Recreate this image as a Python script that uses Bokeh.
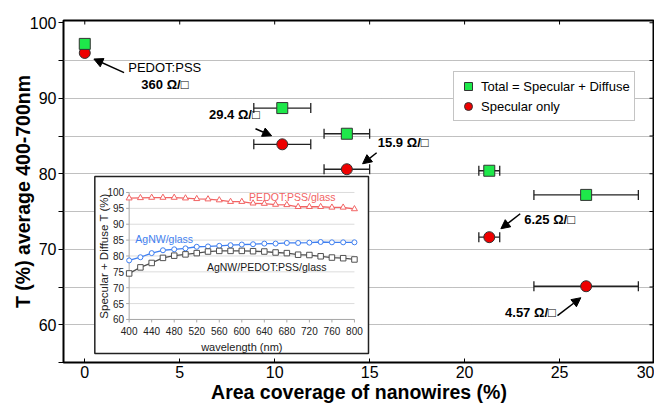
import math
from bokeh.plotting import figure
from bokeh.models import (ColumnDataSource, FixedTicker, Whisker, TeeHead, Arrow, NormalHead,
                          Legend, LegendItem, Range1d)
from bokeh.core.properties import value
from bokeh.embed import file_html
from bokeh.resources import INLINE

FONT = "Liberation Sans"

# ---------------- main chart data ----------------
coverage = [0.0, 10.4, 13.8, 21.3, 26.4]
coverage_err = [0.0, 1.5, 1.2, 0.55, 2.75]
t_total = [97.2, 88.7, 85.3, 80.4, 77.2]
t_specular = [96.0, 83.9, 80.6, 71.6, 65.1]
sheet_res = ["360", "29.4", "15.9", "6.25", "4.57"]

x_ticks = [0, 5, 10, 15, 20, 25, 30]
y_ticks = [60, 70, 80, 90, 100]
y_minor = [55, 65, 75, 85, 95]
y_grid = [60, 65, 70, 75, 80, 85, 90, 95]

# annotation placement (main data coords)
lab_x = [2.98, 6.54, 15.43, 23.14, 22.13]
lab_y = [91.8, 87.8, 84.2, 73.9, 61.6]
arr_xs = [2.07, 8.99, 15.37, 22.93, 24.89]
arr_ys = [93.4, 85.96, 82.78, 74.7, 61.2]
arr_xe = [0.48, 9.84, 14.63, 21.91, 26.12]
arr_ye = [95.2, 85.03, 81.32, 72.72, 63.58]

# ---------------- inset data ----------------
wavelength = [400, 420, 440, 460, 480, 500, 520, 540, 560, 580, 600,
              620, 640, 660, 680, 700, 720, 740, 760, 780, 800]
pedot_glass = [98.2, 98.3, 98.4, 98.4, 98.4, 98.2, 98.0, 97.9, 97.6, 97.1, 97.1,
               96.6, 96.5, 96.2, 96.1, 95.5, 95.5, 95.5, 95.3, 95.3, 94.8]
agnw_glass = [78.6, 79.6, 80.9, 81.8, 82.1, 82.4, 82.9, 83.0, 83.2, 83.4, 83.6,
              83.7, 83.9, 83.9, 84.1, 84.1, 84.2, 84.4, 84.3, 84.3, 84.3]
agnw_pedot_glass = [74.5, 76.4, 77.8, 79.4, 80.1, 80.5, 80.9, 81.4, 81.6, 81.6, 81.6,
                    81.5, 81.4, 81.1, 80.9, 80.4, 80.3, 79.9, 79.5, 79.3, 78.9]
inset_x_ticks = [400, 440, 480, 520, 560, 600, 640, 680, 720, 760, 800]
inset_y_ticks = [60, 65, 70, 75, 80, 85, 90, 95, 100]
inset_x_lim = (400, 800)
inset_y_lim = (60, 100)

# ---------------- layout constants ----------------
X0, X1, Y0, Y1 = -1.12, 30, 55, 100.3
INSET_PLOT_X = (2.337, 14.20)    # where inset x-limits sit, in main x units
INSET_PLOT_Y = (60.70, 77.52)    # where inset y-limits sit, in main y units
INSET_BOX = dict(left=0.529, right=14.94, top=79.64, bottom=56.19)


def extra_range(lim, place, main_lo, main_hi):
    k = (lim[1] - lim[0]) / (place[1] - place[0])
    return Range1d(lim[0] - (place[0] - main_lo) * k, lim[1] + (main_hi - place[1]) * k)


p = figure(width=654, height=407, x_range=Range1d(X0, X1), y_range=Range1d(Y0, Y1),
           min_border_left=63, min_border_right=0, min_border_top=20, min_border_bottom=45,
           output_backend="svg", toolbar_location=None, background_fill_color="white")
p.extra_x_ranges = {"ix": extra_range(inset_x_lim, INSET_PLOT_X, X0, X1)}
p.extra_y_ranges = {"iy": extra_range(inset_y_lim, INSET_PLOT_Y, Y0, Y1)}

p.outline_line_color = "black"
p.outline_line_width = 2
p.xgrid.visible = False
p.ygrid.ticker = FixedTicker(ticks=y_grid)
p.ygrid.grid_line_color = "#808080"
p.ygrid.grid_line_dash = "1 1"
p.ygrid.grid_line_width = 1

xa = p.xaxis[0]
xa.ticker = FixedTicker(ticks=x_ticks)
ya = p.yaxis[0]
ya.ticker = FixedTicker(ticks=y_ticks, minor_ticks=y_minor)
for a in (xa, ya):
    a.axis_line_color = None
    a.major_tick_line_color = "black"
    a.minor_tick_line_color = "black"
    a.major_label_text_font = FONT
    a.major_label_text_font_size = "16px"
    a.major_label_text_color = "black"
    a.axis_label_text_font = FONT
    a.axis_label_text_font_size = "19.5px"
    a.axis_label_text_font_style = "bold"
    a.axis_label_text_color = "black"
    a.axis_label_standoff = 0
xa.major_tick_in = 4
xa.major_tick_out = 0
xa.minor_tick_in = 0
xa.minor_tick_out = 0
xa.axis_label = "Area coverage of nanowires (%)"
xa.major_label_standoff = 3
ya.major_tick_in = 0
ya.major_tick_out = 5
ya.minor_tick_in = 0
ya.minor_tick_out = 5
ya.axis_label = "T (%) average 400-700nm"
ya.major_label_standoff = 2
ya.axis_label_standoff = -7

# mirrored inward ticks on the right and top edges
p.ray(x=[X1] * (len(y_ticks) + len(y_minor)), y=y_ticks + y_minor, length=5, length_units="screen",
      angle=math.pi, line_color="black", line_width=1)
p.ray(x=x_ticks, y=[Y1] * len(x_ticks), length=4, length_units="screen",
      angle=-math.pi / 2, line_color="black", line_width=1)

# error bars
err_src = ColumnDataSource(dict(
    y=[v for v, e in zip(t_total, coverage_err) if e > 0] + [v for v, e in zip(t_specular, coverage_err) if e > 0],
    lo=[c - e for c, e in zip(coverage, coverage_err) if e > 0] * 2,
    hi=[c + e for c, e in zip(coverage, coverage_err) if e > 0] * 2,
))
wh = Whisker(source=err_src, base="y", lower="lo", upper="hi", dimension="width",
             line_color="#222", line_width=1.3, level="underlay",
             lower_head=TeeHead(size=10, line_color="#222", line_width=1.3),
             upper_head=TeeHead(size=10, line_color="#222", line_width=1.3))
p.add_layout(wh)

r_spec = p.scatter(coverage, t_specular, marker="circle", size=11, fill_color="#ee0000",
                   line_color="#333", line_width=1)
r_tot = p.scatter(coverage, t_total, marker="square", size=11, fill_color="#1ee84a",
                  line_color="#333", line_width=1)

legend = Legend(items=[LegendItem(label="Total = Specular + Diffuse", renderers=[r_tot]),
                       LegendItem(label="Specular only", renderers=[r_spec])],
                location=(390, 241), margin=0, padding=4, spacing=0,
                glyph_width=20, glyph_height=20, label_height=20, label_standoff=3,
                label_text_font=FONT, label_text_font_size="13px", label_text_color="black",
                border_line_color="#8a8a8a", border_line_width=1, background_fill_alpha=1)
p.add_layout(legend)

# annotations
p.text(x=[2.29], y=[94.04], text=["PEDOT:PSS"], text_font=value(FONT), text_font_size="13px",
       text_baseline="middle", text_align="left", text_color="black")
p.text(x=lab_x, y=lab_y, text=[s + " Ω/□" for s in sheet_res], text_font=value(FONT),
       text_font_size="13px", text_font_style="bold", text_baseline="middle", text_align="left",
       text_color="black")
arr_src = ColumnDataSource(dict(xs=arr_xs, ys=arr_ys, xe=arr_xe, ye=arr_ye))
p.add_layout(Arrow(source=arr_src, x_start="xs", y_start="ys", x_end="xe", y_end="ye",
                   line_color="black", line_width=1.5,
                   end=NormalHead(size=9, fill_color="black", line_color="black", line_width=1)))

# ---------------- inset (drawn on its own ranges) ----------------
p.quad(left=[INSET_BOX["left"]], right=[INSET_BOX["right"]], top=[INSET_BOX["top"]],
       bottom=[INSET_BOX["bottom"]], fill_color="white", line_color="#222", line_width=1.5)

IR = dict(x_range_name="ix", y_range_name="iy")
n_y = len(inset_y_ticks)
p.segment(x0=[inset_x_lim[0]] * n_y, x1=[inset_x_lim[1]] * n_y, y0=inset_y_ticks, y1=inset_y_ticks,
          line_color="#dcdcdc", line_width=1, **IR)
p.ray(x=[inset_x_lim[0]] * n_y, y=inset_y_ticks, length=3, length_units="screen",
      angle=math.pi, line_color="#a8a8a8", line_width=1, **IR)
p.segment(x0=[inset_x_lim[0], inset_x_lim[0]], x1=[inset_x_lim[0], inset_x_lim[1]],
          y0=[inset_y_lim[0], inset_y_lim[0]], y1=[inset_y_lim[1], inset_y_lim[0]],
          line_color="#a8a8a8", line_width=1, **IR)
p.ray(x=inset_x_ticks, y=[inset_y_lim[0]] * len(inset_x_ticks), length=3, length_units="screen",
      angle=-math.pi / 2, line_color="#a8a8a8", line_width=1, **IR)
p.text(x=inset_x_ticks, y=[inset_y_lim[0]] * len(inset_x_ticks), text=[str(t) for t in inset_x_ticks],
       text_align="center", text_baseline="top", y_offset=8, text_font=value(FONT),
       text_font_size="10px", text_color="#222", **IR)
p.text(x=[inset_x_lim[0]] * n_y, y=inset_y_ticks, text=[str(t) for t in inset_y_ticks],
       text_align="right", text_baseline="middle", x_offset=-5, text_font=value(FONT),
       text_font_size="10px", text_color="#222", **IR)
p.text(x=[sum(inset_x_lim) / 2], y=[inset_y_lim[0]], text=["wavelength (nm)"], text_align="center",
       text_baseline="middle", y_offset=28, text_font=value(FONT), text_font_size="11px",
       text_color="#222", **IR)
p.text(x=[inset_x_lim[0]], y=[sum(inset_y_lim) / 2], text=["Specular + Diffuse T (%)"],
       text_align="center", text_baseline="middle", angle=math.pi / 2, x_offset=-25,
       text_font=value(FONT), text_font_size="11.5px", text_color="#222", **IR)

red_c, blue_c, gray_c = "#f26464", "#3f7ff0", "#505050"
p.line(wavelength, pedot_glass, line_color=red_c, line_width=1.3, **IR)
p.scatter(wavelength, pedot_glass, marker="triangle", size=6, fill_color="white", line_color=red_c, **IR)
p.line(wavelength, agnw_glass, line_color=blue_c, line_width=1.3, **IR)
p.scatter(wavelength, agnw_glass, marker="circle", size=5, fill_color="white", line_color=blue_c, **IR)
p.line(wavelength, agnw_pedot_glass, line_color=gray_c, line_width=1.3, **IR)
p.scatter(wavelength, agnw_pedot_glass, marker="square", size=5.5, fill_color="white",
          line_color=gray_c, **IR)

p.text(x=[613], y=[98.7], text=["PEDOT:PSS/glass"], text_color=red_c, text_font=value(FONT),
       text_font_size="10.5px", text_baseline="middle", **IR)
p.text(x=[411], y=[85.5], text=["AgNW/glass"], text_color=blue_c, text_font=value(FONT),
       text_font_size="10.5px", text_baseline="middle", **IR)
p.text(x=[538], y=[76.4], text=["AgNW/PEDOT:PSS/glass"], text_color="#1a1a1a", text_font=value(FONT),
       text_font_size="10.5px", text_baseline="middle", **IR)

open("out.html", "w").write(file_html(p, INLINE))
